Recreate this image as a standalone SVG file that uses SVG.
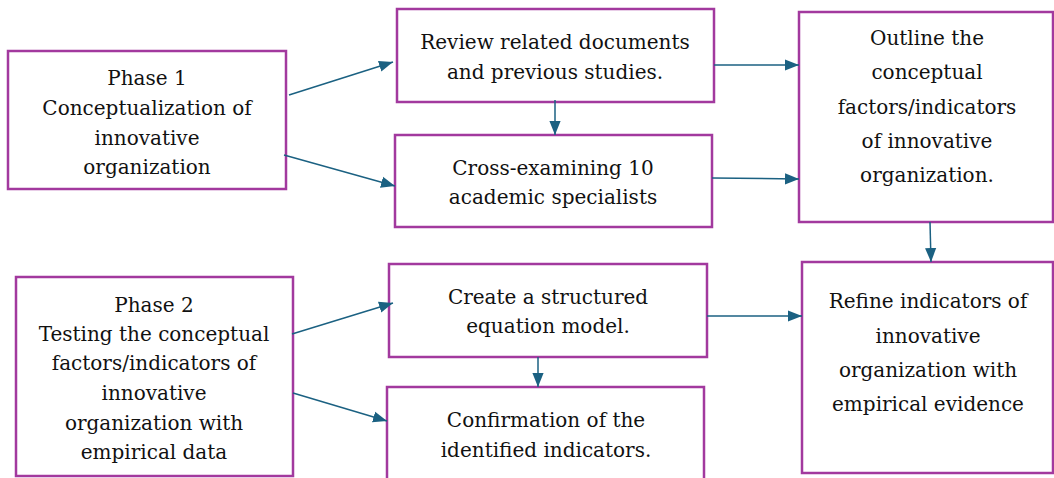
<svg xmlns="http://www.w3.org/2000/svg" width="1054" height="478" viewBox="0 0 1054 478">
<defs>
<style>
.box{fill:#fff;stroke:#a2399e;stroke-width:2.5}
.t{font-family:'DejaVu Serif',serif;font-size:20px;fill:#111;text-anchor:middle}
.c{stroke:#1b6182;stroke-width:1.5;fill:none}
</style>
<marker id="ah2" viewBox="0 0 10 10" refX="10" refY="5" markerWidth="14" markerHeight="14" markerUnits="userSpaceOnUse" orient="auto">
<path d="M0,1 L10,5 L0,9 z" fill="#1b6182"/>
</marker>
</defs>
<rect width="1054" height="478" fill="#fff"/>
<g id="phase1">
<rect class="box" x="8" y="51" width="278" height="138"/>
<text class="t" x="147" y="85">Phase 1</text>
<text class="t" x="147" y="115">Conceptualization of</text>
<text class="t" x="147" y="145">innovative</text>
<text class="t" x="147" y="174">organization</text>
</g>
<g id="review">
<rect class="box" x="397" y="9" width="317" height="93"/>
<text class="t" x="555" y="49">Review related documents</text>
<text class="t" x="555" y="79">and previous studies.</text>
</g>
<g id="cross">
<rect class="box" x="395" y="135" width="317" height="92"/>
<text class="t" x="553" y="175">Cross-examining 10</text>
<text class="t" x="553" y="204">academic specialists</text>
</g>
<g id="outline">
<rect class="box" x="799" y="12" width="254" height="210"/>
<text class="t" x="927" y="45">Outline the</text>
<text class="t" x="927" y="79">conceptual</text>
<text class="t" x="927" y="114">factors/indicators</text>
<text class="t" x="927" y="148">of innovative</text>
<text class="t" x="927" y="182">organization.</text>
</g>
<g id="refine">
<rect class="box" x="802" y="262" width="251" height="211"/>
<text class="t" x="928" y="308">Refine indicators of</text>
<text class="t" x="928" y="343">innovative</text>
<text class="t" x="928" y="377">organization with</text>
<text class="t" x="928" y="411">empirical evidence</text>
</g>
<g id="phase2">
<rect class="box" x="16" y="277" width="277" height="199"/>
<text class="t" x="154" y="312">Phase 2</text>
<text class="t" x="154" y="341">Testing the conceptual</text>
<text class="t" x="154" y="370">factors/indicators of</text>
<text class="t" x="154" y="400">innovative</text>
<text class="t" x="154" y="430">organization with</text>
<text class="t" x="154" y="459">empirical data</text>
</g>
<g id="create">
<rect class="box" x="389" y="264" width="318" height="93"/>
<text class="t" x="548" y="304">Create a structured</text>
<text class="t" x="548" y="333">equation model.</text>
</g>
<g id="confirm">
<rect class="box" x="387" y="387" width="317" height="100"/>
<text class="t" x="546" y="427">Confirmation of the</text>
<text class="t" x="546" y="457">identified indicators.</text>
</g>
<g id="connectors">
<line class="c" x1="289" y1="95" x2="393" y2="62" marker-end="url(#ah2)"/>
<line class="c" x1="284" y1="155" x2="395" y2="186" marker-end="url(#ah2)"/>
<line class="c" x1="555" y1="100" x2="555" y2="135" marker-end="url(#ah2)"/>
<line class="c" x1="714" y1="65" x2="799" y2="65" marker-end="url(#ah2)"/>
<line class="c" x1="712" y1="178" x2="799" y2="179" marker-end="url(#ah2)"/>
<line class="c" x1="930" y1="222" x2="931" y2="262" marker-end="url(#ah2)"/>
<line class="c" x1="292" y1="334" x2="393" y2="303" marker-end="url(#ah2)"/>
<line class="c" x1="293" y1="393" x2="387" y2="421" marker-end="url(#ah2)"/>
<line class="c" x1="538" y1="357" x2="538" y2="387" marker-end="url(#ah2)"/>
<line class="c" x1="707" y1="316" x2="802" y2="316" marker-end="url(#ah2)"/>
</g>
</svg>
